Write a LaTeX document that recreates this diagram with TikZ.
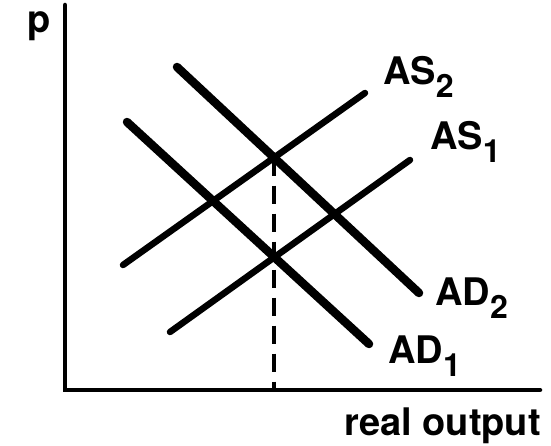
\documentclass[tikz,border=0pt]{standalone}
\usepackage{fontspec}
\setmainfont{TeX Gyre Heros}
\usepackage{tikz}
\usetikzlibrary{positioning,calc,intersections}
\newcommand{\lowidx}[1]{\raisebox{-13pt}{\fontsize{32}{32}\selectfont #1}}

\begin{document}
\begin{tikzpicture}[x=1pt, y=1pt,
    axisline/.style={line width=4.5pt, line cap=round},
    adline/.style={line width=8.5pt, line cap=round},
    asline/.style={line width=6.5pt, line cap=round},
    guide/.style={line width=3.5pt, dash pattern=on 18pt off 10pt},
    lbl/.style={inner sep=0pt, font=\fontsize{38}{40}\selectfont\bfseries}
  ]
  \useasboundingbox (0,0) rectangle (551,445);

  \coordinate (top) at (65,440);
  \coordinate (o)   at (65,55);
  \coordinate (end) at (540,55);
  \draw[axisline] (top) -- (o) -- (end);

  \coordinate (ad2a) at (177,378);
  \coordinate (ad2b) at (419,152);
  \coordinate (ad1a) at (127,323);
  \coordinate (ad1b) at (369,101);
  \coordinate (as2a) at (123,180);
  \coordinate (as2b) at (365,352);
  \coordinate (as1a) at (170,113);
  \coordinate (as1b) at (410,285);

  \draw[adline, name path=ad2] (ad2a) -- (ad2b);
  \draw[adline] (ad1a) -- (ad1b);
  \draw[asline, name path=as2] (as2a) -- (as2b);
  \draw[asline] (as1a) -- (as1b);

  \path[name intersections={of=ad2 and as2, by=eq}];
  \coordinate (foot) at (eq |- o);
  \draw[guide] (eq) -- (foot);

  \node[lbl, anchor=base west] (as2) at (383,360) {AS\lowidx{2}};
  \node[lbl, anchor=base west] (as1) at (430,295) {AS\lowidx{1}};
  \node[lbl, anchor=base west] (ad2) at (435,140) {AD\lowidx{2}};
  \node[lbl, anchor=base west] (ad1) at (388,82)  {AD\lowidx{1}};
  \node[lbl, anchor=base west] (p)   at (27,412)  {p};
  \node[lbl, anchor=base east] (out) at (541,10)  {real output};
\end{tikzpicture}
\end{document}
